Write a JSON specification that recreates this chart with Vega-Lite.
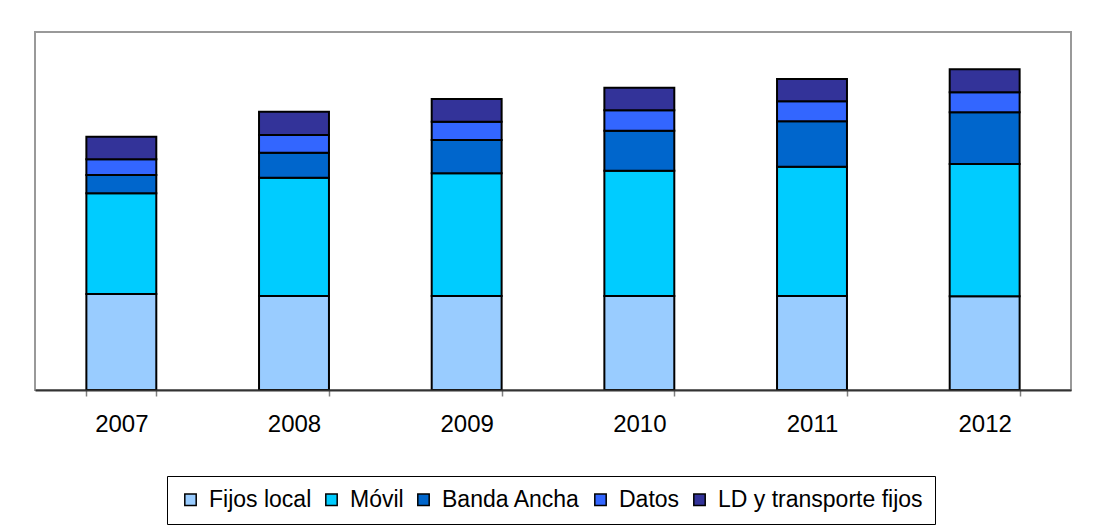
{
  "$schema": "https://vega.github.io/schema/vega-lite/v6.json",
  "width": 1036,
  "height": 358,
  "padding": {"left": 35, "top": 32, "right": 5, "bottom": 0},
  "background": "white",
  "data": {
    "values": [
      {"anio": "2007", "serie": "Fijos local", "orden": 1, "valor": 96},
      {"anio": "2007", "serie": "Móvil", "orden": 2, "valor": 100.7},
      {"anio": "2007", "serie": "Banda Ancha", "orden": 3, "valor": 18.3},
      {"anio": "2007", "serie": "Datos", "orden": 4, "valor": 15.7},
      {"anio": "2007", "serie": "LD y transporte fijos", "orden": 5, "valor": 22.6},
      {"anio": "2008", "serie": "Fijos local", "orden": 1, "valor": 94},
      {"anio": "2008", "serie": "Móvil", "orden": 2, "valor": 118.3},
      {"anio": "2008", "serie": "Banda Ancha", "orden": 3, "valor": 25},
      {"anio": "2008", "serie": "Datos", "orden": 4, "valor": 17.7},
      {"anio": "2008", "serie": "LD y transporte fijos", "orden": 5, "valor": 23.3},
      {"anio": "2009", "serie": "Fijos local", "orden": 1, "valor": 94},
      {"anio": "2009", "serie": "Móvil", "orden": 2, "valor": 122.7},
      {"anio": "2009", "serie": "Banda Ancha", "orden": 3, "valor": 33.3},
      {"anio": "2009", "serie": "Datos", "orden": 4, "valor": 18.3},
      {"anio": "2009", "serie": "LD y transporte fijos", "orden": 5, "valor": 22.7},
      {"anio": "2010", "serie": "Fijos local", "orden": 1, "valor": 94},
      {"anio": "2010", "serie": "Móvil", "orden": 2, "valor": 125.3},
      {"anio": "2010", "serie": "Banda Ancha", "orden": 3, "valor": 40},
      {"anio": "2010", "serie": "Datos", "orden": 4, "valor": 20.4},
      {"anio": "2010", "serie": "LD y transporte fijos", "orden": 5, "valor": 22.6},
      {"anio": "2011", "serie": "Fijos local", "orden": 1, "valor": 94},
      {"anio": "2011", "serie": "Móvil", "orden": 2, "valor": 129.3},
      {"anio": "2011", "serie": "Banda Ancha", "orden": 3, "valor": 45.4},
      {"anio": "2011", "serie": "Datos", "orden": 4, "valor": 20},
      {"anio": "2011", "serie": "LD y transporte fijos", "orden": 5, "valor": 22.3},
      {"anio": "2012", "serie": "Fijos local", "orden": 1, "valor": 93.7},
      {"anio": "2012", "serie": "Móvil", "orden": 2, "valor": 132.3},
      {"anio": "2012", "serie": "Banda Ancha", "orden": 3, "valor": 51.7},
      {"anio": "2012", "serie": "Datos", "orden": 4, "valor": 20},
      {"anio": "2012", "serie": "LD y transporte fijos", "orden": 5, "valor": 23}
    ]
  },
  "mark": {"type": "bar", "stroke": "black", "strokeWidth": 2},
  "encoding": {
    "x": {
      "field": "anio",
      "type": "ordinal",
      "scale": {"paddingInner": 0.595, "paddingOuter": 0.2975},
      "axis": {
        "title": null,
        "labelAngle": 0,
        "labelFont": "Liberation Sans",
        "labelFontSize": 24,
        "labelColor": "black",
        "labelPadding": 16,
        "tickBand": "extent",
        "tickSize": 6,
        "tickColor": "#808080",
        "tickWidth": 1.5,
        "domainColor": "#333333",
        "domainWidth": 2,
        "zindex": 1
      }
    },
    "y": {
      "field": "valor",
      "type": "quantitative",
      "stack": "zero",
      "scale": {"domain": [0, 358], "nice": false},
      "axis": null
    },
    "order": {"field": "orden", "type": "quantitative", "sort": "ascending"},
    "color": {
      "field": "serie",
      "type": "nominal",
      "sort": ["Fijos local", "Móvil", "Banda Ancha", "Datos", "LD y transporte fijos"],
      "scale": {
        "domain": ["Fijos local", "Móvil", "Banda Ancha", "Datos", "LD y transporte fijos"],
        "range": ["#99CCFF", "#00CCFF", "#0066CC", "#3366FF", "#333399"]
      },
      "legend": {
        "title": null,
        "orient": "none",
        "direction": "horizontal",
        "legendX": 132,
        "legendY": 444,
        "strokeColor": "black",
        "padding": 12,
        "symbolType": "square",
        "symbolSize": 130,
        "symbolStrokeColor": "black",
        "symbolStrokeWidth": 1.5,
        "symbolOpacity": 1,
        "labelFont": "Liberation Sans",
        "labelFontSize": 23,
        "labelColor": "black",
        "labelLimit": 0,
        "labelOffset": 7,
        "columnPadding": 8
      }
    }
  },
  "config": {
    "view": {"stroke": "#999999", "strokeWidth": 2}
  }
}
